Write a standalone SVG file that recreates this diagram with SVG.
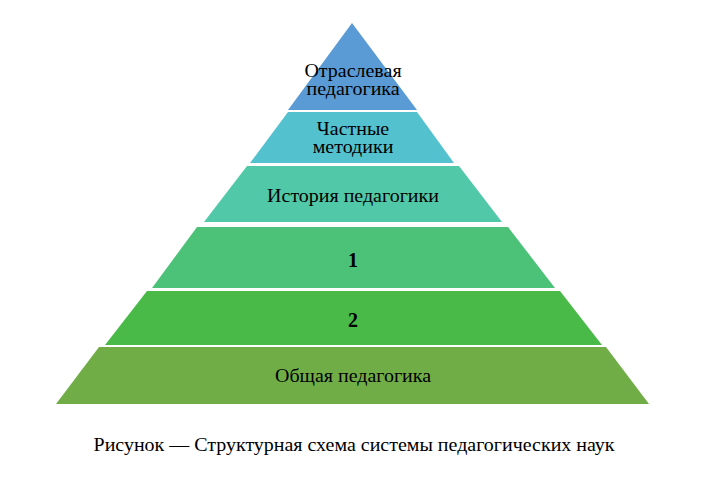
<svg xmlns="http://www.w3.org/2000/svg" width="722" height="481" viewBox="0 0 722 481">
<style>
.t{font-family:"Liberation Serif","Times New Roman",serif;font-size:18px;fill:#000;text-anchor:middle}
.b{font-weight:bold;font-size:20px}
</style>
<rect width="722" height="481" fill="#fff"/>
<g id="level1">
<polygon points="352,23 417,110 288,110" fill="#5B9BD5"/>
<text class="t" x="353" y="77" transform="matrix(1.11,0,0,1,-38.8,0)">Отраслевая</text>
<text class="t" x="353" y="95" transform="matrix(1.11,0,0,1,-38.8,0)">педагогика</text>
</g>
<g id="level2">
<polygon points="288,112 417,112 454,163 250,163" fill="#54C1CF"/>
<text class="t" x="353" y="135" transform="matrix(1.11,0,0,1,-38.8,0)">Частные</text>
<text class="t" x="353" y="153" transform="matrix(1.11,0,0,1,-38.8,0)">методики</text>
</g>
<g id="level3">
<polygon points="247,166 459,166 502,222 204,222" fill="#51C8A8"/>
<text class="t" x="353" y="202" transform="matrix(1.11,0,0,1,-38.8,0)">История педагогики</text>
</g>
<g id="level4">
<polygon points="197,227 508,227 555,288 152,288" fill="#4CC278"/>
<text class="t b" x="353" y="267">1</text>
</g>
<g id="level5">
<polygon points="147,291 560,291 602,345 105,345" fill="#49B948"/>
<text class="t b" x="353" y="327">2</text>
</g>
<g id="level6">
<polygon points="99,347 606,347 649,404 56,404" fill="#70AD47"/>
<text class="t" x="353" y="382" transform="matrix(1.11,0,0,1,-38.8,0)">Общая педагогика</text>
</g>
<g id="connectors"/>
<text class="t" x="354" y="451" transform="matrix(1.11,0,0,1,-38.9,0)">Рисунок — Структурная схема системы педагогических наук</text>
</svg>
